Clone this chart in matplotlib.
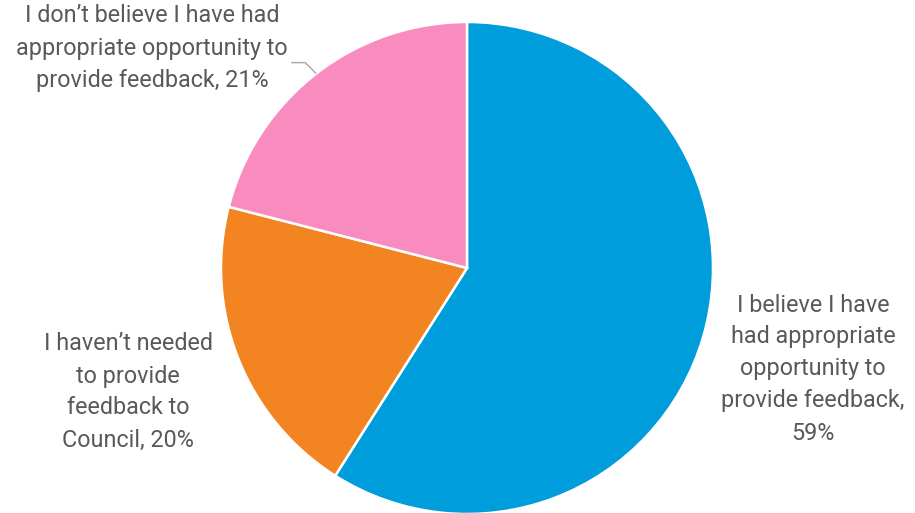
import numpy as np
import matplotlib
matplotlib.use("Agg")
import matplotlib.pyplot as plt

plt.rcParams["font.family"] = ["Roboto", "DejaVu Sans"]

# ===== Data =====
labels = [
    "I believe I have\nhad appropriate\nopportunity to\nprovide feedback,\n59%",
    "I haven\u2019t needed\nto provide\nfeedback to\nCouncil, 20%",
    "I don\u2019t believe I have had\nappropriate opportunity to\nprovide feedback, 21%",
]
shares = [59, 20, 21]
colors = ["#009ddc", "#f28522", "#f88cbf"]

# label anchor points (canvas pixels, y measured from the top)
label_xy = [(813, 369), (128, 392), (152, 48)]

W, H = 915, 513
cx, cy, r = 467, H - 268, 246

fig = plt.figure(figsize=(W / 100, H / 100), dpi=100)
ax = fig.add_axes([0, 0, 1, 1])

wedges, _ = ax.pie(
    shares,
    colors=colors,
    startangle=90,
    counterclock=False,
    center=(cx, cy),
    radius=r,
    wedgeprops=dict(edgecolor="white", linewidth=1.8),
    frame=True,
)
ax.set_xlim(0, W)
ax.set_ylim(0, H)
ax.set_aspect("equal")
ax.axis("off")

text_color = "#595959"
for lab, (px, py) in zip(labels, label_xy):
    ax.text(px, H - py, lab, ha="center", va="center", fontsize=16.8,
            color=text_color, linespacing=1.5)

# leader line for the small pink slice
w = wedges[2]
mid = np.deg2rad((w.theta1 + w.theta2) / 2)
ex, ey = cx + r * np.cos(mid), cy + r * np.sin(mid)
ax.plot([ex - 25, ex - 11, ex], [ey + 11, ey + 11, ey],
        color="#a6a6a6", lw=1.0, solid_capstyle="butt")

fig.savefig("out.png", dpi=100)
